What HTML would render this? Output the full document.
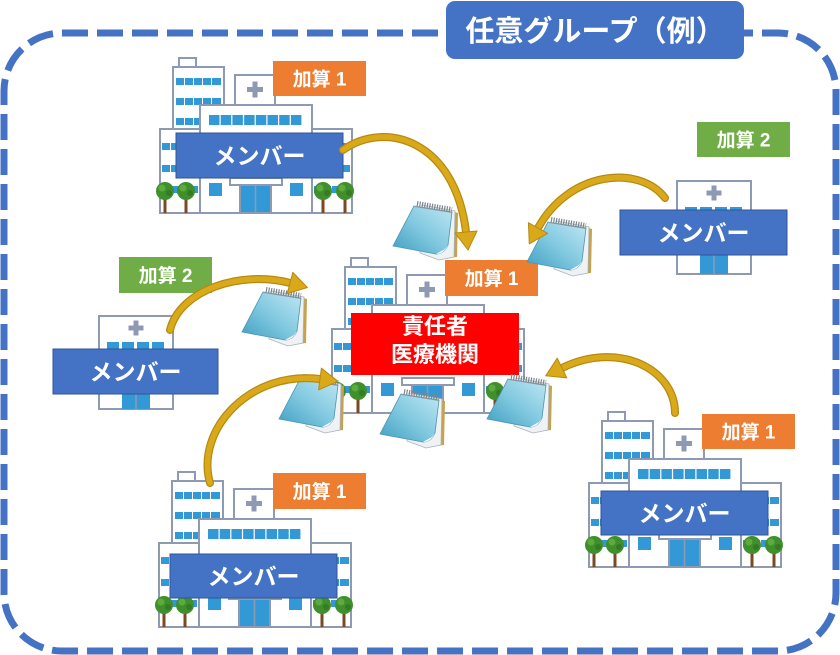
<!DOCTYPE html>
<html><head><meta charset="utf-8"><style>
html,body{margin:0;padding:0;background:#fff;}
svg{display:block;}
text{font-family:"Liberation Sans","Noto Sans CJK JP",sans-serif;font-weight:bold;fill:#fff;}
</style></head><body>
<svg width="840" height="655" viewBox="0 0 840 655" xmlns="http://www.w3.org/2000/svg">
<defs>
<linearGradient id="padg" x1="0" y1="1" x2="1" y2="0">
<stop offset="0" stop-color="#3f9fc2"/><stop offset="0.5" stop-color="#82c9e0"/><stop offset="1" stop-color="#bfe7f3"/>
</linearGradient>
<g id="tree">
<rect x="-1.5" y="-18" width="3" height="18" fill="#7a4a22"/>
<ellipse cx="0" cy="-22" rx="9" ry="9" fill="#3f8f2c"/>
<circle cx="-3" cy="-25" r="3.5" fill="#5cab3c"/>
<circle cx="4" cy="-20" r="3" fill="#357a24"/>
</g>
<g id="hosp">
<g stroke="#8e9ab4" stroke-width="2" fill="#fff">
<rect x="179" y="58" width="17" height="9"/>
<rect x="173" y="67" width="51" height="70"/>
</g>
<g fill="#3399d6">
<rect x="176" y="78" width="8" height="7"/><rect x="185" y="78" width="8" height="7"/><rect x="194" y="78" width="8" height="7"/><rect x="203" y="78" width="8" height="7"/><rect x="212" y="78" width="9" height="7"/>
<rect x="176" y="98" width="8" height="7"/><rect x="185" y="98" width="8" height="7"/><rect x="194" y="98" width="8" height="7"/><rect x="203" y="98" width="8" height="7"/><rect x="212" y="98" width="9" height="7"/>
<rect x="176" y="118" width="8" height="7"/><rect x="185" y="118" width="8" height="7"/><rect x="194" y="118" width="8" height="7"/>
</g>
<rect x="235" y="75" width="40" height="35" fill="#fff" stroke="#8e9ab4" stroke-width="2"/>
<g fill="#8e9ab4"><rect x="247" y="87" width="16" height="5"/><rect x="252.5" y="81.5" width="5" height="16"/></g>
<rect x="160" y="129" width="192" height="84" fill="#fff" stroke="#8e9ab4" stroke-width="2"/>
<g fill="#3399d6">
<rect x="162" y="143" width="8" height="7"/><rect x="171" y="143" width="8" height="7"/><rect x="180" y="143" width="8" height="7"/><rect x="189" y="143" width="9" height="7"/>
<rect x="162" y="165" width="8" height="7"/><rect x="171" y="165" width="8" height="7"/><rect x="180" y="165" width="8" height="7"/><rect x="189" y="165" width="9" height="7"/>
<rect x="162" y="186" width="8" height="7"/><rect x="171" y="186" width="8" height="7"/><rect x="180" y="186" width="8" height="7"/><rect x="189" y="186" width="9" height="7"/>
<rect x="314" y="143" width="8" height="7"/><rect x="323" y="143" width="8" height="7"/><rect x="332" y="143" width="8" height="7"/><rect x="341" y="143" width="9" height="7"/>
<rect x="314" y="165" width="8" height="7"/><rect x="323" y="165" width="8" height="7"/><rect x="332" y="165" width="8" height="7"/><rect x="341" y="165" width="9" height="7"/>
<rect x="314" y="186" width="8" height="7"/><rect x="323" y="186" width="8" height="7"/><rect x="332" y="186" width="8" height="7"/><rect x="341" y="186" width="9" height="7"/>
</g>
<rect x="200" y="105" width="112" height="108" fill="#fff" stroke="#8e9ab4" stroke-width="2"/>
<g fill="#3399d6">
<rect x="209" y="115" width="10.5" height="10"/><rect x="220.7" y="115" width="10.5" height="10"/><rect x="232.4" y="115" width="10.5" height="10"/><rect x="244.1" y="115" width="10.5" height="10"/><rect x="255.8" y="115" width="10.5" height="10"/><rect x="267.5" y="115" width="10.5" height="10"/><rect x="279.2" y="115" width="10.5" height="10"/><rect x="290.9" y="115" width="10.5" height="10"/>
<rect x="209" y="140" width="10.5" height="7"/><rect x="220.7" y="140" width="10.5" height="7"/><rect x="232.4" y="140" width="10.5" height="7"/><rect x="244.1" y="140" width="10.5" height="7"/><rect x="255.8" y="140" width="10.5" height="7"/><rect x="267.5" y="140" width="10.5" height="7"/><rect x="279.2" y="140" width="10.5" height="7"/><rect x="290.9" y="140" width="10.5" height="7"/>
<rect x="209" y="183" width="13" height="13"/><rect x="290" y="183" width="13" height="13"/>
</g>
<rect x="230" y="178" width="52" height="7" fill="#fff" stroke="#8e9ab4" stroke-width="2"/>
<rect x="240" y="185" width="31" height="28" fill="#3399d6" stroke="#8e9ab4" stroke-width="2"/>
<line x1="255.5" y1="185" x2="255.5" y2="213" stroke="#8e9ab4" stroke-width="1.5"/>
<use href="#tree" x="165" y="213"/><use href="#tree" x="186" y="213"/><use href="#tree" x="323" y="213"/><use href="#tree" x="345" y="213"/>
</g>
<g id="clinic">
<rect x="0" y="0" width="74" height="93" fill="#fff" stroke="#8e9ab4" stroke-width="2"/>
<g fill="#8e9ab4"><rect x="29.5" y="9.5" width="15" height="5"/><rect x="34.5" y="4.5" width="5" height="15"/></g>
<g fill="#3399d6"><rect x="8" y="26" width="12" height="8"/><rect x="23" y="26" width="12" height="8"/><rect x="38" y="26" width="12" height="8"/><rect x="53" y="26" width="12" height="8"/></g>
<rect x="23" y="74" width="28" height="19" fill="#3399d6"/>
<line x1="37" y1="74" x2="37" y2="93" stroke="#8e9ab4" stroke-width="1.5"/>
</g>
<g id="pad">
<polygon points="58,11 68,14 67,58 58,59" fill="#c8a24a"/>
<polygon points="32,6 65,12 64,58 49,61 30,54" fill="#eef2f4" stroke="#a9b3bb" stroke-width="0.8"/>
<path d="M24,7 L62,13 L58,46 Q54,55 46,55 L3,47 Z" fill="url(#padg)" stroke="#4b95b3" stroke-width="0.8"/>
<path d="M58,46 Q54,55 46,55 L55,50 Z" fill="#ffffff"/>
<line x1="27" y1="4.5" x2="62" y2="10.5" stroke="#7d858c" stroke-width="5" stroke-dasharray="1.2 1.3"/>
<line x1="25" y1="7.5" x2="62" y2="13.5" stroke="#8c959c" stroke-width="1"/>
</g>
</defs>

<rect x="0" y="0" width="840" height="655" fill="#fff"/>
<rect x="4" y="33" width="832" height="618" rx="58" ry="58" fill="none" stroke="#4472C4" stroke-width="7" stroke-dasharray="26 9"/>
<rect x="446" y="1" width="298" height="58" rx="9" fill="#4472C4"/>
<text x="595" y="41" font-size="29" text-anchor="middle">任意グループ（例）</text>

<use href="#hosp"/>
<use href="#hosp" transform="translate(-1,414)"/>
<use href="#hosp" transform="translate(429,354)"/>
<use href="#hosp" transform="translate(172,200)"/>
<use href="#clinic" transform="translate(677,181)"/>
<use href="#clinic" transform="translate(99,316)"/>

<g font-size="19" text-anchor="middle">
<rect x="273" y="61" width="93" height="35" fill="#ED7D31"/><text x="319.5" y="85.5">加算 1</text>
<rect x="273" y="473" width="93" height="36" fill="#ED7D31"/><text x="319.5" y="498">加算 1</text>
<rect x="702" y="414" width="93" height="35" fill="#ED7D31"/><text x="748.5" y="438.5">加算 1</text>
<rect x="445" y="260" width="93" height="36" fill="#ED7D31"/><text x="491.5" y="285">加算 1</text>
<rect x="697" y="122" width="93" height="35" fill="#70AD47"/><text x="743.5" y="146.5">加算 2</text>
<rect x="119" y="257" width="93" height="36" fill="#70AD47"/><text x="165.5" y="282">加算 2</text>
</g>
<g font-size="23" text-anchor="middle">
<rect x="176" y="133" width="167" height="45" fill="#4472C4" stroke="#2F5597" stroke-width="1"/><text x="259.5" y="164">メンバー</text>
<rect x="170" y="554" width="167" height="44" fill="#4472C4" stroke="#2F5597" stroke-width="1"/><text x="253.5" y="584.5">メンバー</text>
<rect x="601" y="491" width="167" height="44" fill="#4472C4" stroke="#2F5597" stroke-width="1"/><text x="684.5" y="521.5">メンバー</text>
<rect x="620" y="210" width="167" height="45" fill="#4472C4" stroke="#2F5597" stroke-width="1"/><text x="703.5" y="241">メンバー</text>
<rect x="53" y="349" width="165" height="45" fill="#4472C4" stroke="#2F5597" stroke-width="1"/><text x="135.5" y="380">メンバー</text>
</g>
<rect x="351" y="313" width="168" height="62" fill="#FF0000"/>
<g font-size="22" text-anchor="middle">
<text x="435" y="334">責任者</text>
<text x="435" y="362">医療機関</text>
</g>

<use href="#pad" transform="translate(390,199)"/>
<use href="#pad" transform="translate(524,215)"/>
<use href="#pad" transform="translate(239,285)"/>
<use href="#pad" transform="translate(276,372)"/>
<use href="#pad" transform="translate(377,387)"/>
<use href="#pad" transform="translate(484,372)"/>

<g fill="none" stroke-linecap="round">
<g stroke="#B48A12" stroke-width="8">
<path d="M343,150 C385,120 455,140 466,232"/>
<path d="M665,198 C640,165 570,170 538,228"/>
<path d="M170,330 C180,290 240,270 290,283"/>
<path d="M210,483 C195,430 250,370 320,379"/>
<path d="M675,413 C675,370 620,340 562,368"/>
</g>
<g stroke="#DAA91A" stroke-width="5.5">
<path d="M343,150 C385,120 455,140 466,232"/>
<path d="M665,198 C640,165 570,170 538,228"/>
<path d="M170,330 C180,290 240,270 290,283"/>
<path d="M210,483 C195,430 250,370 320,379"/>
<path d="M675,413 C675,370 620,340 562,368"/>
</g>
</g>
<g fill="#DAA91A" stroke="#B48A12" stroke-width="1" stroke-linejoin="round">
<polygon points="468,250 477,231 455,233"/>
<polygon points="529.3,243.8 547.6,233.3 528.4,222.7"/>
<polygon points="307.4,287.5 287.2,293.6 292.8,272.4"/>
<polygon points="337.9,381.3 318.6,389.9 321.4,368.1"/>
<polygon points="545.8,375.8 566.8,377.9 557.2,358.1"/>
</g>
</svg>
</body></html>
